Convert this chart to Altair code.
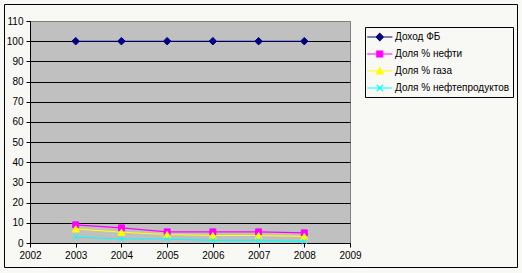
import altair as alt
import pandas as pd

# ---- data ----
years = [2003, 2004, 2005, 2006, 2007, 2008]
series_names = ["Доход ФБ", "Доля % нефти", "Доля % газа", "Доля % нефтепродуктов"]
dohod = [100, 100, 100, 100, 100, 100]
neft = [9, 7.5, 5.5, 5.5, 5.5, 5]
gaz = [7, 5.3, 4.2, 3.7, 3.7, 3.3]
nefteprod = [3, 2, 2, 1.3, 1.3, 0.8]
colors = ["#000080", "#FF00FF", "#FFFF00", "#00FFFF"]
x_ticks = [2002, 2003, 2004, 2005, 2006, 2007, 2008, 2009]
y_ticks = [0, 10, 20, 30, 40, 50, 60, 70, 80, 90, 100, 110]

rows = []
for name, vals in zip(series_names, [dohod, neft, gaz, nefteprod]):
    for yr, v in zip(years, vals):
        rows.append({"year": yr, "value": v, "series": name})
df = pd.DataFrame(rows)

FONT = "Liberation Sans"
BG = "#F8F8F4"

color_scale = alt.Scale(domain=series_names, range=colors)

x_enc = alt.X(
    "year:Q",
    scale=alt.Scale(domain=[2002, 2009], nice=False, zero=False),
    axis=alt.Axis(values=x_ticks, format="d", title=None, grid=False,
                  labelFlush=False, labelOverlap=False, tickSize=4, labelPadding=3),
)
y_enc = alt.Y(
    "value:Q",
    scale=alt.Scale(domain=[0, 110], nice=False),
    axis=alt.Axis(values=y_ticks, title=None, grid=True,
                  gridColor={"condition": {"test": "datum.value == 110", "value": "#808080"}, "value": "black"},
                  labelFlush=False, labelOverlap=False, tickSize=4, labelPadding=3),
)

base = alt.Chart(df)

line_layers = []
point_layers = []
marker_shapes = ["diamond", "square", "triangle-up", "M-1,-1L1,1M-1,1L1,-1"]
marker_sizes = [56, 36, 50, 30]
for name, shp, sz, c in zip(series_names, marker_shapes, marker_sizes, colors):
    sub = base.transform_filter(alt.datum.series == name)
    line_layers.append(
        sub.mark_line(strokeWidth=1.1, color=c).encode(x=x_enc, y=y_enc)
    )
    point_layers.append(
        sub.mark_point(shape=shp, size=sz, filled=True, opacity=1, fill=c, stroke=c, strokeWidth=1)
        .encode(x=x_enc, y=y_enc)
    )

legend_paths = [
    "M-1.3,0H2.9M0.8,-0.6L1.4,0L0.8,0.6L0.2,0Z",
    "M-1.3,0H2.9M0.3,-0.5H1.3V0.5H0.3Z",
    "M-1.3,0H2.9M0.8,-0.6L1.4,0.5H0.2Z",
    "M-1.3,0H2.9M0.3,-0.5L1.3,0.5M0.3,0.5L1.3,-0.5",
]

def make_legend():
    return alt.Legend(
        orient="none", legendX=335, legendY=6, title=None,
        strokeColor="black", fillColor=BG, padding=3,
        symbolSize=144, symbolStrokeWidth=1.1, symbolOpacity=1,
        labelFont=FONT, labelFontSize=10, labelColor="black",
        labelOffset=13, rowPadding=4, cornerRadius=0,
    )

legend_layer = base.mark_point(filled=True, opacity=0, size=144).encode(
    x=x_enc, y=y_enc,
    color=alt.Color("series:N", scale=color_scale, legend=make_legend(), title=None),
    stroke=alt.Stroke("series:N", scale=color_scale, legend=make_legend(), title=None),
    shape=alt.Shape("series:N", scale=alt.Scale(domain=series_names, range=legend_paths),
                    legend=make_legend(), title=None),
)

border = alt.Chart(pd.DataFrame({"k": [0]})).mark_rect(
    fillOpacity=0, stroke="black", strokeWidth=1
).encode(
    x=alt.value(-25.5), x2=alt.value(487.5), y=alt.value(-16.5), y2=alt.value(246.5)
)

chart = alt.layer(legend_layer, border, *line_layers, *point_layers).properties(
    width=320, height=222,
    autosize=alt.AutoSizeParams(type="none"),
    padding={"left": 30, "top": 21, "right": 172, "bottom": 30},
).configure(
    background=BG,
).configure_view(
    fill="#C0C0C0", stroke="#808080", strokeWidth=1,
).configure_axis(
    domainColor="black", tickColor="black", labelFont=FONT, labelFontSize=10,
    labelColor="black", gridWidth=1, domainWidth=1,
)

chart.save("out.html", embed_options={"renderer": "svg", "actions": False})
